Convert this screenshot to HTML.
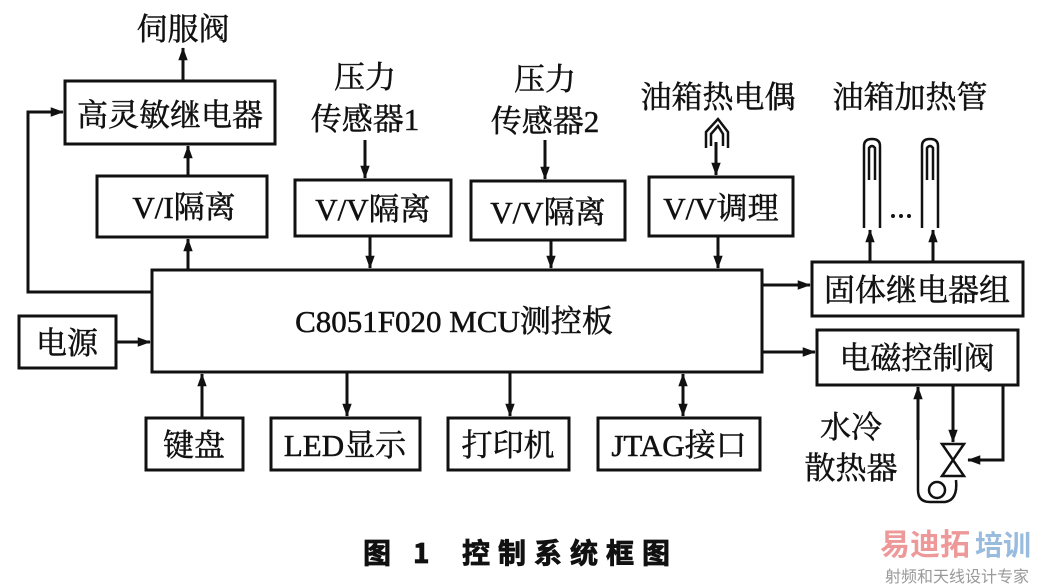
<!DOCTYPE html>
<html><head><meta charset="utf-8"><style>
html,body{margin:0;padding:0;background:#fff;}
svg{display:block}
text{font-family:"Liberation Serif","Noto Serif CJK SC","Noto Sans CJK SC",serif;fill:#111;stroke:#111;stroke-width:0.5;}
</style></head><body>
<svg width="1038" height="588" viewBox="0 0 1038 588" xmlns="http://www.w3.org/2000/svg">
<defs><marker id="b" markerWidth="13" markerHeight="18" refX="17" refY="6.5" orient="auto" markerUnits="userSpaceOnUse" viewBox="0 0 18 13"><path d="M0,0 L18,6.5 L0,13 Z" fill="#111"/></marker></defs>
<g fill="none" stroke="#111" stroke-width="3">
<rect x="65" y="81" width="210" height="63"/>
<rect x="97" y="176" width="170" height="61"/>
<rect x="295" y="180" width="156" height="56"/>
<rect x="471" y="181" width="154" height="59"/>
<rect x="649" y="177" width="144" height="59"/>
<rect x="152" y="270" width="610" height="102"/>
<rect x="19" y="316" width="97" height="52"/>
<rect x="812" y="262" width="211" height="54"/>
<rect x="817" y="330" width="201" height="55"/>
<rect x="146" y="418" width="97" height="52"/>
<rect x="271" y="418" width="149" height="52"/>
<rect x="448" y="418" width="121" height="52"/>
<rect x="598" y="418" width="162" height="52"/>
</g>
<g stroke="#111" stroke-width="3" fill="none" marker-end="url(#b)">
<line x1="183" y1="81" x2="183" y2="48"/>
<line x1="188" y1="176" x2="188" y2="146"/>
<line x1="188" y1="270" x2="188" y2="239"/>
<polyline points="152,292 28,292 28,112 63,112"/>
<line x1="365" y1="140" x2="365" y2="178"/>
<line x1="370" y1="236" x2="370" y2="268"/>
<line x1="545" y1="140" x2="545" y2="179"/>
<line x1="551" y1="240" x2="551" y2="268"/>
<line x1="716" y1="142" x2="716" y2="175"/>
<line x1="718" y1="236" x2="718" y2="268"/>
<line x1="762" y1="285" x2="810" y2="285"/>
<line x1="762" y1="352" x2="815" y2="352"/>
<line x1="116" y1="342" x2="150" y2="342"/>
<line x1="202" y1="418" x2="202" y2="374"/>
<line x1="347" y1="372" x2="347" y2="416"/>
<line x1="510" y1="372" x2="510" y2="416"/>
<line x1="683" y1="395" x2="683" y2="416"/>
<line x1="683" y1="395" x2="683" y2="374"/>
<line x1="870" y1="262" x2="870" y2="230"/>
<line x1="933" y1="262" x2="933" y2="230"/>
<line x1="918" y1="440" x2="918" y2="387"/>
<line x1="953" y1="385" x2="953" y2="442"/>
<polyline points="1003,385 1003,460 968,460"/>
</g>
<g stroke="#111" stroke-width="2.5" fill="none">
<path d="M706,148 V132 L718,119 L728,132 V148 M711,146 V134 L718,126 L723,134 V146"/>
<path d="M864,228 V146 Q864,139 872,139 Q880,139 880,146 V228 M869,180 V148 Q872,144 875,148 V180"/>
<path d="M922,228 V146 Q922,139 930,139 Q938,139 938,146 V228 M927,180 V148 Q930,144 933,148 V180"/>
<path d="M918,440 V490 Q918,502 930,502 L945,502 Q958,500 956,480"/>
<circle cx="937" cy="490" r="8"/>
<path d="M942,444 L964,444 L942,476 L964,476 Z"/>
</g>
<g fill="#111"><circle cx="893" cy="216" r="2"/><circle cx="901" cy="216" r="2"/><circle cx="909" cy="216" r="2"/></g>
<g font-size="31" text-anchor="middle">
<text x="183" y="40">伺服阀</text>
<text x="170" y="126">高灵敏继电器</text>
<text x="184" y="218">V/I隔离</text>
<text x="373" y="220">V/V隔离</text>
<text x="548" y="223">V/V隔离</text>
<text x="721" y="219">V/V调理</text>
<text x="454" y="332">C8051F020 MCU测控板</text>
<text x="67" y="354">电源</text>
<text x="917" y="301">固体继电器组</text>
<text x="917" y="369">电磁控制阀</text>
<text x="194" y="456">键盘</text>
<text x="345" y="456">LED显示</text>
<text x="508" y="456">打印机</text>
<text x="679" y="456">JTAG接口</text>
<text x="365" y="88">压力</text>
<text x="365" y="130">传感器1</text>
<text x="545" y="90">压力</text>
<text x="545" y="132">传感器2</text>
<text x="718" y="108">油箱热电偶</text>
<text x="910" y="108">油箱加热管</text>
<text x="851" y="438">水冷</text>
<text x="851" y="479">散热器</text>
</g>
<text x="363" y="563" font-size="28" font-weight="bold" style="font-family:'Noto Sans CJK SC',sans-serif;stroke-width:0.8">图</text>
<text x="413" y="563" font-size="28" font-weight="bold" style="font-family:'Noto Sans CJK SC',sans-serif;stroke-width:0.8">1</text>
<text x="462" y="563" font-size="28" font-weight="bold" letter-spacing="8" style="font-family:'Noto Sans CJK SC',sans-serif;stroke-width:0.8">控制系统框图</text>
<text x="880" y="555" font-size="30" font-weight="bold" style="fill:#e99;stroke:none;font-family:'Noto Sans CJK SC',sans-serif">易迪拓</text>
<text x="975" y="555" font-size="28" font-weight="bold" style="fill:#9bd;stroke:none;font-family:'Noto Sans CJK SC',sans-serif">培训</text>
<text x="885" y="582" font-size="16" style="fill:#999;stroke:none;font-family:'Noto Sans CJK SC',sans-serif">射频和天线设计专家</text>
</svg>
</body></html>
